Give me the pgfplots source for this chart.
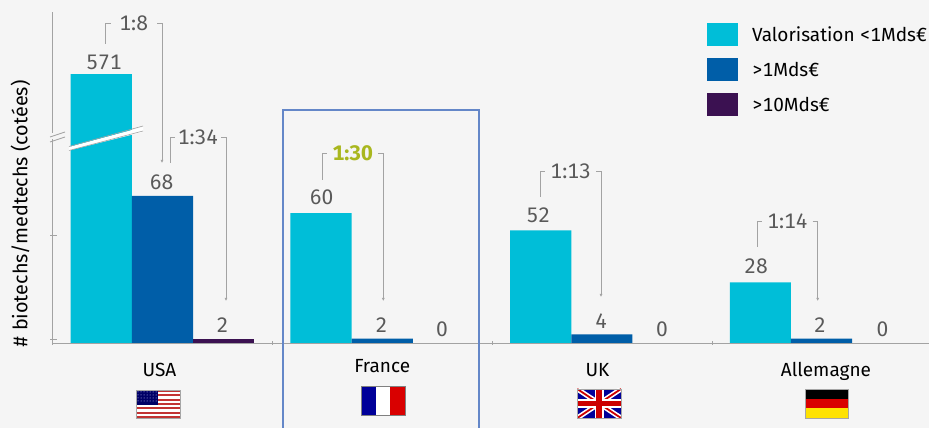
\documentclass[border=0pt]{standalone}
\usepackage{fontspec}
\usepackage{pgfplots}
\usepackage{pgfplotstable}
\pgfplotsset{compat=1.18}
\usetikzlibrary{arrows.meta}
\setmainfont[Numbers={Monospaced,Lining}]{Fira Sans}
\definecolor{bg}{HTML}{F5F5F5}
\definecolor{cCyan}{HTML}{00BED8}
\definecolor{cBlue}{HTML}{005EA8}
\definecolor{cPurple}{HTML}{3B1151}
\definecolor{frame}{HTML}{6487C8}
\definecolor{lab}{HTML}{595959}
\definecolor{olive}{HTML}{A9B71E}
\definecolor{brk}{HTML}{A3A3A3}
% x y dx dy (label offsets in px)
\pgfplotstableread{
x y dx dy
0 571 2.6 4
1 60 0.7 8
2 52 -2.3 7.7
3 28 -4.3 8
}\lowcap
\pgfplotstableread{
x y dx dy
0 68 -0.8 6
1 2 -0.8 6
2 4 -0.7 6
3 2 -1.5 6
}\midcap
\pgfplotstableread{
x y dx dy
0 2 -1.2 6
}\highcap
% the zero bars only carry their label
\pgfplotstableread{
x y dx dy
1 0 -1.3 6
2 0 -1 6
3 0 -0.3 6
}\highzero
\newcommand{\ratio}[6]{% left x, low y, bar y, right x, arrow y, text
  \draw[brk,line width=.8pt] (#1,#2) -- (#1,#3) -- ++(5,0);
  \draw[brk,line width=.8pt,-{Latex[length=3pt,width=3pt]}] (#4-5,#3) -- (#4,#3) -- (#4,#5);
  \node[font=\fontsize{21}{21}\selectfont,text=lab,inner sep=0] at ({(#1+#4)/2},#3) {#6};
}
\begin{document}
\begin{tikzpicture}
\fill[bg] (0,0) rectangle (929pt,428pt);
\useasboundingbox (0,0) rectangle (929pt,428pt);
\begin{axis}[
  at={(52pt,85pt)}, anchor=south west,
  scale only axis, width=877pt, height=331pt,
  ybar=0pt, bar width=61.2pt,
  xmin=-0.503, xmax=3.489, ymin=0, ymax=152.9,
  axis lines=left, axis line style={-,brk,line width=.9pt},
  y filter/.expression={y>90 ? 90+(y-90)*0.0712 : y},
  xtick={-0.014,1,1.98,3.02},
  xticklabels={USA,\raisebox{4pt}[0pt][0pt]{France},UK,Allemagne},
  major x tick style={draw=none},
  minor xtick={-0.503,0.4985,1.5,2.5},
  minor tick length=4pt,
  minor x tick style={brk},
  xticklabel style={font=\fontsize{19}{19}\selectfont,text height=14pt,text depth=4pt,yshift=-12pt},
  ytick={2,50}, yticklabels={,},
  tick align=center,
  major tick length=7pt,
  y tick style={brk,xshift=1.5pt},
  ylabel={\# biotechs/medtechs (cotées)},
  ylabel style={at={(axis description cs:-0.036,0.39)},anchor=center,font=\fontsize{19.8}{19.8}\selectfont},
  point meta=rawy,
  visualization depends on={\thisrow{dx} \as \labdx},
  visualization depends on={\thisrow{dy} \as \labdy},
  nodes near coords,
  /pgf/number format/assume math mode=true,
  nodes near coords style={font=\fontsize{21}{21}\selectfont,text=lab,inner sep=0,anchor=south,xshift=\labdx*1pt,yshift=\labdy*1pt},
  legend image code/.code={\fill[#1] (0,-11.5pt) rectangle (31pt,11.5pt);},
  legend style={at={(0.7469,0.9668)},anchor=north west,draw=none,fill=none,inner sep=0pt,outer sep=0pt,
    row sep=12pt,font=\fontsize{19}{19}\selectfont,
    nodes={inner sep=0pt,anchor=west,minimum height=23pt,text depth=0pt}},
  legend cell align=left,
]
\addplot[fill=cCyan,draw=none,bar shift=-61.2pt] table[x=x,y=y] {\lowcap};
\addplot[fill=cBlue,draw=none,bar shift=0pt] table[x=x,y=y] {\midcap};
\addplot[fill=cPurple,draw=none,bar shift=61.2pt] table[x=x,y=y] {\highcap};
\addplot[fill=none,draw=none,bar shift=61.2pt,forget plot] table[x=x,y=y] {\highzero};
\legend{\hspace{14pt}Valorisation <1Mds€,\hspace{14pt}>1Mds€,\hspace{14pt}>10Mds€}
\end{axis}
\begin{scope}[x=1pt,y=-1pt,shift={(0,428pt)}]
  % highlight frame
  \draw[frame,line width=1.1pt] (283,428) -- (283,110) -- (479,110) -- (479,428);
  % axis break
  \fill[bg] (49,133) rectangle (56,139);
  \draw[brk,line width=.8pt] (50,137) -- (65,132) (50,142) -- (65,137);
  \fill[white] (69,147) -- (143,127) -- (143,132) -- (69,150.5) -- cycle;
  \draw[brk,line width=.6pt] (69,146.5) -- (143,126) (69,150.5) -- (143,131);
  % ratios
  \ratio{105.5}{44}{23}{162}{163}{1:8}
  \ratio{170}{163}{137}{226}{301}{1:34}
  \ratio{322.3}{180}{153}{383.3}{301}{\textcolor{olive}{\textbf{1:30}}}
  \ratio{540.3}{197}{171}{601}{297}{1:13}
  \ratio{757.3}{247}{221}{817.7}{301}{1:14}
  % flags
  \begin{scope}
    \fill[white] (136,390) rectangle (180,418);
    \foreach \i in {0,2,...,12} \fill[red!70!black!80] (136,{390+\i*28/13}) rectangle (180,{390+(\i+1)*28/13});
    \fill[blue!40!black] (136,390) rectangle (158,405);
    \foreach \xx in {138,141,...,156} \foreach \yy in {392,395,...,403} \fill[white!80!blue] (\xx,\yy) circle (.5);
    \draw[gray!70,line width=.7pt] (136,390) rectangle (180,418);
  \end{scope}
  \fill[blue!60!black] (361,386) rectangle (375.7,415);
  \fill[white] (375.7,386) rectangle (390.3,415);
  \fill[red!85!black] (390.3,386) rectangle (405,415);
  \draw[gray,line width=.7pt] (361,386) rectangle (405,415);
  \begin{scope}
    \clip (577.3,389) rectangle (621,418);
    \fill[blue!60!black] (577.3,389) rectangle (621,418);
    \draw[white,line width=5pt] (577.3,389) -- (621,418) (577.3,418) -- (621,389);
    \draw[red!80!black,line width=1.8pt] (577.3,389) -- (621,418) (577.3,418) -- (621,389);
    \draw[white,line width=9pt] (599.1,389) -- (599.1,418) (577.3,403.5) -- (621,403.5);
    \draw[red!80!black,line width=5.5pt] (599.1,389) -- (599.1,418) (577.3,403.5) -- (621,403.5);
  \end{scope}
  \draw[gray!70,line width=.7pt] (577.3,389) rectangle (621,418);
  \fill[black] (805,389) rectangle (848,398.7);
  \fill[red!85!black] (805,398.7) rectangle (848,408.3);
  \fill[yellow!85!orange] (805,408.3) rectangle (848,418);
  \draw[gray!70,line width=.7pt] (805,389) rectangle (848,418);
\end{scope}
\end{tikzpicture}
\end{document}
